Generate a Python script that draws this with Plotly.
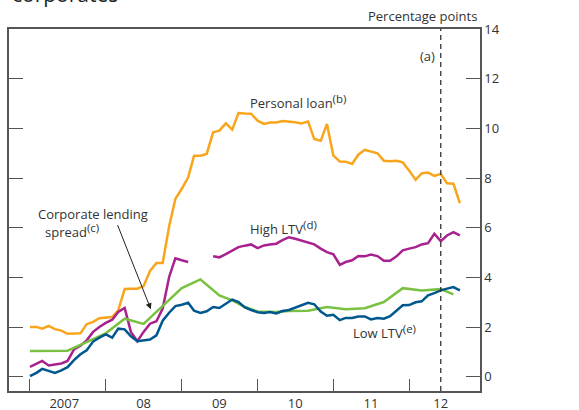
import pandas as pd
import plotly.graph_objects as go

# monthly data, Jan 2007 - Sep 2012
months = pd.date_range("2007-01-01", periods=69, freq="MS")

personal_loan = [2.01, 2.01, 1.94, 2.05, 1.92, 1.86, 1.73, 1.73, 1.75, 2.12, 2.21, 2.36,
                 2.38, 2.41, 2.68, 3.54, 3.55, 3.55, 3.65, 4.26, 4.58, 4.58, 6.05, 7.16,
                 7.57, 8.03, 8.90, 8.90, 8.97, 9.84, 9.91, 10.20, 9.95, 10.62, 10.60, 10.59,
                 10.31, 10.18, 10.24, 10.24, 10.30, 10.28, 10.25, 10.20, 10.28, 9.57, 9.50, 10.18,
                 8.90, 8.67, 8.66, 8.57, 8.94, 9.14, 9.08, 9.00, 8.70, 8.68, 8.70, 8.63,
                 8.30, 7.93, 8.19, 8.22, 8.09, 8.17, 7.79, 7.77, 6.99]

high_ltv = [0.40, 0.51, 0.64, 0.46, 0.51, 0.54, 0.64, 1.10, 1.25, 1.47, 1.81, 2.01,
            2.17, 2.30, 2.61, 2.77, 1.81, 1.43, 1.81, 2.14, 2.24, 2.75, 4.02, 4.77,
            4.69, 4.62, None, None, None, 4.85, 4.81, 4.94, 5.09, 5.22, 5.28, 5.33,
            5.18, 5.29, 5.33, 5.36, 5.50, 5.62, 5.56, 5.49, 5.42, 5.33, 5.16, 5.02,
            4.93, 4.51, 4.62, 4.69, 4.86, 4.85, 4.92, 4.86, 4.67, 4.67, 4.85, 5.09,
            5.16, 5.22, 5.33, 5.38, 5.76, 5.46, 5.69, 5.82, 5.69]

low_ltv = [0.03, 0.16, 0.32, 0.23, 0.16, 0.26, 0.39, 0.67, 0.91, 1.07, 1.42, 1.58,
           1.71, 1.58, 1.94, 1.91, 1.63, 1.43, 1.45, 1.50, 1.67, 2.26, 2.58, 2.85,
           2.90, 2.98, 2.66, 2.57, 2.64, 2.81, 2.77, 2.93, 3.11, 3.01, 2.79, 2.69,
           2.60, 2.57, 2.61, 2.55, 2.65, 2.69, 2.79, 2.88, 2.98, 2.92, 2.63, 2.46,
           2.50, 2.28, 2.37, 2.37, 2.43, 2.43, 2.31, 2.37, 2.34, 2.44, 2.65, 2.88,
           2.89, 3.00, 3.04, 3.28, 3.37, 3.48, 3.55, 3.61, 3.48]

corp_dates = ["2007-01-01", "2007-07-01", "2008-01-01", "2008-04-01", "2008-07-01",
              "2008-10-01", "2009-01-01", "2009-04-01", "2009-07-01", "2009-09-01",
              "2009-11-01", "2010-01-01", "2010-04-01", "2010-06-01", "2010-09-01",
              "2010-12-01", "2011-03-01", "2011-06-01", "2011-09-01", "2011-12-01",
              "2012-03-01", "2012-06-01", "2012-08-01"]
corp_spread = [1.04, 1.05, 1.75, 2.34, 2.13, 2.84, 3.57, 3.92, 3.28, 3.08,
               2.81, 2.63, 2.61, 2.65, 2.66, 2.81, 2.72, 2.76, 3.01, 3.57,
               3.48, 3.53, 3.32]

year_ticks = ["2007-01-01", "2008-01-01", "2009-01-01", "2010-01-01", "2011-01-01", "2012-01-01"]
label_pos = ["2007-06-15", "2008-07-01", "2009-07-01", "2010-07-01", "2011-07-01", "2012-06-01"]
label_text = ["2007", "08", "09", "10", "11", "12"]
marker_date = "2012-06-01"

TXT = "#333333"
AX = "#555555"
FONT = "Open Sans"


def sup(s):
    # superscript a bit larger than plotly's default 70%
    return "<sup><span style='font-size:11.5px'>" + s + "</span></sup>"


fig = go.Figure()
fig.add_trace(go.Scatter(x=months, y=personal_loan, mode="lines",
                         line=dict(color="#F9A51B", width=2.5)))
fig.add_trace(go.Scatter(x=months, y=high_ltv, mode="lines", connectgaps=False,
                         line=dict(color="#A7228E", width=2.5)))
fig.add_trace(go.Scatter(x=pd.to_datetime(corp_dates), y=corp_spread, mode="lines",
                         line=dict(color="#7AC143", width=2.5)))
fig.add_trace(go.Scatter(x=months, y=low_ltv, mode="lines",
                         line=dict(color="#00578E", width=2.5)))

# vertical dashed marker
fig.add_shape(type="line", xref="x", yref="paper", x0=marker_date, x1=marker_date,
              y0=0, y1=1, line=dict(color="#333333", width=1.3, dash="5px,4px"))

ann = [
    dict(x="2009-11-15", y=11.07, text="Personal loan" + sup("(b)"), xanchor="left"),
    dict(x="2009-11-15", y=6.01, text="High LTV" + sup("(d)"), xanchor="left"),
    dict(x="2007-01-30", y=6.56, text="Corporate lending", xanchor="left"),
    dict(x="2007-03-03", y=5.89, text="spread" + sup("(c)"), xanchor="left"),
    dict(x="2011-03-28", y=1.81, text="Low LTV" + sup("(e)"), xanchor="left"),
    dict(x="2012-05-13", y=12.92, text="(a)", xanchor="right"),
]
for a in ann:
    fig.add_annotation(xref="x", yref="y", showarrow=False, yanchor="middle",
                       font=dict(family=FONT, size=13, color=TXT), **a)

fig.add_annotation(xref="x", yref="y", x="2008-08-05", y=2.72,
                   ax="2008-02-24", ay=6.17, axref="x", ayref="y", text="",
                   showarrow=True, arrowhead=2, arrowsize=1.2, arrowwidth=1,
                   arrowcolor="#222222")

fig.add_annotation(xref="paper", yref="paper", x=0.998, y=1.036, xanchor="right",
                   yanchor="middle", showarrow=False, text="Percentage points",
                   font=dict(family=FONT, size=13, color=TXT))
fig.add_annotation(xref="paper", yref="paper", x=0.002, y=1.052, xanchor="left",
                   yanchor="bottom", showarrow=False, text="corporates",
                   font=dict(family=FONT, size=21, color="#222222"))

fig.update_layout(
    width=579, height=410,
    margin=dict(l=9, r=99, t=29, b=19),
    paper_bgcolor="white", plot_bgcolor="white",
    showlegend=False,
    font=dict(family=FONT, size=13, color=TXT),
    xaxis=dict(type="date", range=["2006-09-22", "2012-12-07"],
               showgrid=False, zeroline=False, automargin=False,
               showline=True, linecolor=AX, linewidth=1.5, mirror=True,
               tickmode="array", tickvals=label_pos, ticktext=label_text, ticks="",
               tickfont=dict(size=13, color=TXT),
               minor=dict(tickmode="array", tickvals=year_ticks, ticks="inside",
                          ticklen=12, tickwidth=1.3, tickcolor=AX, showgrid=False)),
    yaxis=dict(range=[-0.57, 14], side="right", showgrid=False, zeroline=False,
               automargin=False,
               showline=True, linecolor=AX, linewidth=1.5, mirror="ticks",
               tickmode="array", tickvals=list(range(0, 15, 2)),
               ticks="inside", ticklen=14, tickwidth=1.3, tickcolor=AX,
               tickfont=dict(size=13, color=TXT)),
)

fig.write_html("out.html", config={"displayModeBar": False},
               post_script="document.body.style.margin='0';")
